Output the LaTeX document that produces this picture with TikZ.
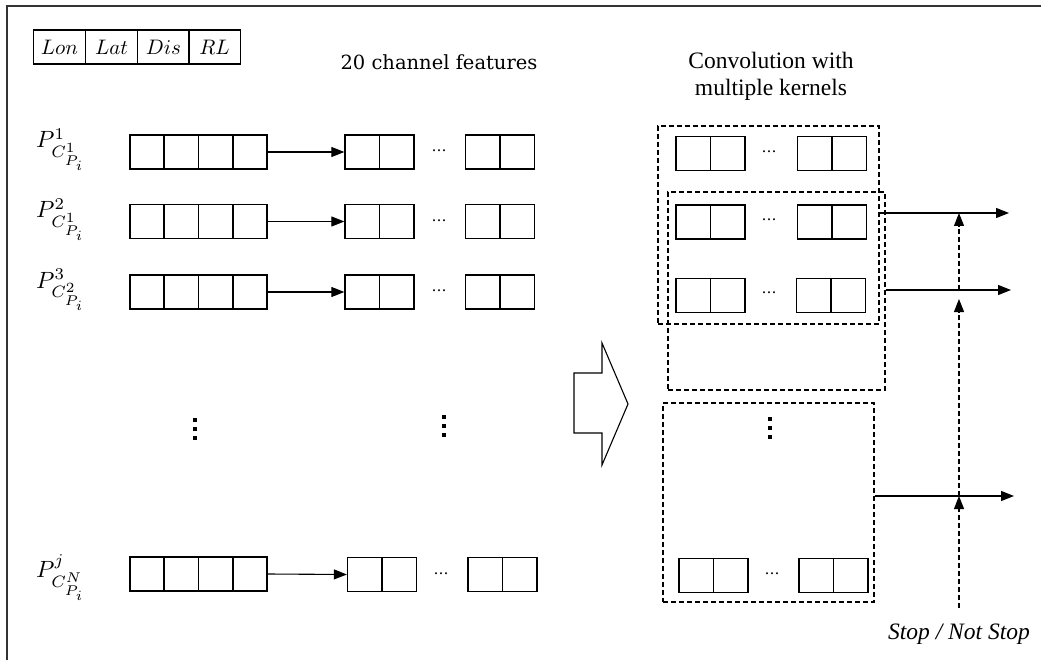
\documentclass[tikz,border=0pt]{standalone}
\usepackage{graphicx}
\usepackage{fontspec}
\newfontfamily\timesf{Liberation Serif}
\newfontfamily\dvserif{DejaVu Serif}
\DeclareMathSizes{10}{10}{7.3}{6.2}
\usetikzlibrary{arrows.meta,calc}
\tikzset{
  ln/.style={line width=1.3pt},
  box4/.style={draw,ln,minimum width=137pt,minimum height=34pt,inner sep=0pt},
  box2/.style={draw,ln,minimum width=69pt,minimum height=34pt,inner sep=0pt},
  hcell/.style={draw,ln,minimum width=52pt,minimum height=34pt,inner sep=0pt},
  arr/.style={line width=1.1pt,-{Triangle[length=13pt,width=10pt]}},
  dbox/.style={draw,line width=1.2pt,dash pattern=on 5pt off 3pt,inner sep=0pt},
  dline/.style={line width=1.1pt,dash pattern=on 5pt off 3pt,-{Triangle[length=13pt,width=10pt]}},
  plabel/.style={anchor=base west,inner sep=0pt},
  cdots/.style={inner sep=0pt,font=\dvserif\fontsize{15}{18}\selectfont},
  ttext/.style={inner sep=0pt,align=center,font=\timesf\fontsize{23.5}{27}\selectfont},
}
\newcommand\scmath[2][2.35]{\scalebox{#1}{$#2$}}
\newcommand\fourcell[3]{%
  \node[box4] (#1) at (#2,#3) {};
  \foreach \k in {1,2,3}
    \draw[ln] ($(#1.north west)!\k/4!(#1.north east)$) -- ($(#1.south west)!\k/4!(#1.south east)$);
}
\newcommand\twocell[3]{%
  \node[box2] (#1) at (#2,#3) {};
  \draw[ln] (#1.north) -- (#1.south);
}
\newcommand\vdotsq[2]{%
  \foreach \d in {-9,0,9}
    \fill ($(#1,#2)+(-1.6,\d-1.6)$) rectangle ($(#1,#2)+(1.6,\d+1.6)$);
}
\begin{document}
\begin{tikzpicture}[x=1pt,y=-1pt]
\useasboundingbox (0,0) rectangle (1041,660);
% outer frame (left and top only)
\coordinate (fc) at (6.5,6.5);
\draw[line width=2pt,black!80] (fc |- 0,660) -- (fc) -- (1041,6.5);

% header table
\node[hcell] (hlon) at (59.5,47) {\scmath[2.1]{Lon}};
\node[hcell] (hlat) at (111.5,47) {\scmath[2.1]{Lat}};
\node[hcell] (hdis) at (163.5,47) {\scmath[2.1]{Dis}};
\node[hcell] (hrl)  at (214.5,47) {\scmath[2.1]{RL}};

\node[inner sep=0pt,font=\dvserif\fontsize{19.5}{23}\selectfont] (t20) at (439,62) {20 channel features};
\node[ttext] (tconv) at (771,76) {Convolution with\\multiple kernels};

% P labels
\node[plabel] (p1) at (36,148) {\scmath{P^{1}_{C^{1}_{P_i}}}};
\node[plabel] (p2) at (36,218) {\scmath{P^{2}_{C^{1}_{P_i}}}};
\node[plabel] (p3) at (36,288) {\scmath{P^{3}_{C^{2}_{P_i}}}};
\node[plabel] (pn) at (36,577) {\scmath{P^{j}_{C^{N}_{P_i}}}};

% left rows
\fourcell{r1}{198.5}{152}
\fourcell{r2}{198.5}{221.5}
\fourcell{r3}{198.5}{292}
\fourcell{rn}{198.5}{574}

\twocell{a1}{379.5}{152}
\twocell{a2}{379.5}{221.5}
\twocell{a3}{379.5}{292}
\twocell{an}{382}{574.5}
\twocell{b1}{500}{152}
\twocell{b2}{500}{221.5}
\twocell{b3}{500}{292}
\twocell{bn}{502.5}{574.5}

\node[cdots] (d1) at (439,151) {…};
\node[cdots] (d2) at (439,220.5) {…};
\node[cdots] (d3) at (439,291) {…};
\node[cdots] (dn) at (441,573.5) {…};

\draw[arr] (r1.east) -- (a1.west);
\draw[arr] (r2.east) -- (a2.west);
\draw[arr] (r3.east) -- (a3.west);
\draw[arr] (rn.east) -- (an.west);

\vdotsq{195}{429}
\vdotsq{444}{426}

% big arrow
\draw[line width=1.1pt] (574,373) -- (602,373) -- (602,343) -- (628,404) -- (602,465) -- (602,433) -- (574,433) -- cycle;

% right side kernels
\node[dbox,minimum width=221pt,minimum height=198pt] (kA) at (768.5,225) {};
\node[dbox,minimum width=217pt,minimum height=198pt] (kB) at (776.5,291) {};
\node[dbox,minimum width=211pt,minimum height=199pt] (kC) at (768.5,502.5) {};

\twocell{c1}{710.5}{153.5}
\twocell{c2}{710.5}{222}
\twocell{c3}{710.5}{295.5}
\twocell{cn}{713.5}{575.5}
\twocell{e1}{832}{153.5}
\twocell{e2}{832}{222}
\twocell{e3}{831}{295.5}
\twocell{en}{833.5}{575.5}

\node[cdots] (f1) at (769,152) {…};
\node[cdots] (f2) at (769,220) {…};
\node[cdots] (f3) at (769,293) {…};
\node[cdots] (fn) at (772,574) {…};

\vdotsq{770}{428}

% outputs
\coordinate (o1) at (1009,213);
\coordinate (o2) at (1011,290);
\coordinate (o3) at (1014,496);
\draw[arr] (kA.east |- o1) -- (o1);
\draw[arr] (kB.east |- o2) -- (o2);
\draw[arr] (kC.east |- o3) -- (o3);

% stop signal
\node[ttext,font=\timesf\itshape\fontsize{23.5}{27}\selectfont] (stop) at (959,634) {Stop / Not Stop};
\coordinate (sb) at (959,608);
\coordinate (s3) at (959,496);
\coordinate (s2) at (959,299);
\coordinate (s1) at (959,213);
\draw[dline] (sb) -- (s3);
\draw[dline] (s3) -- (s2);
\draw[dline] (s2 |- o2) -- (s1);
\end{tikzpicture}
\end{document}
